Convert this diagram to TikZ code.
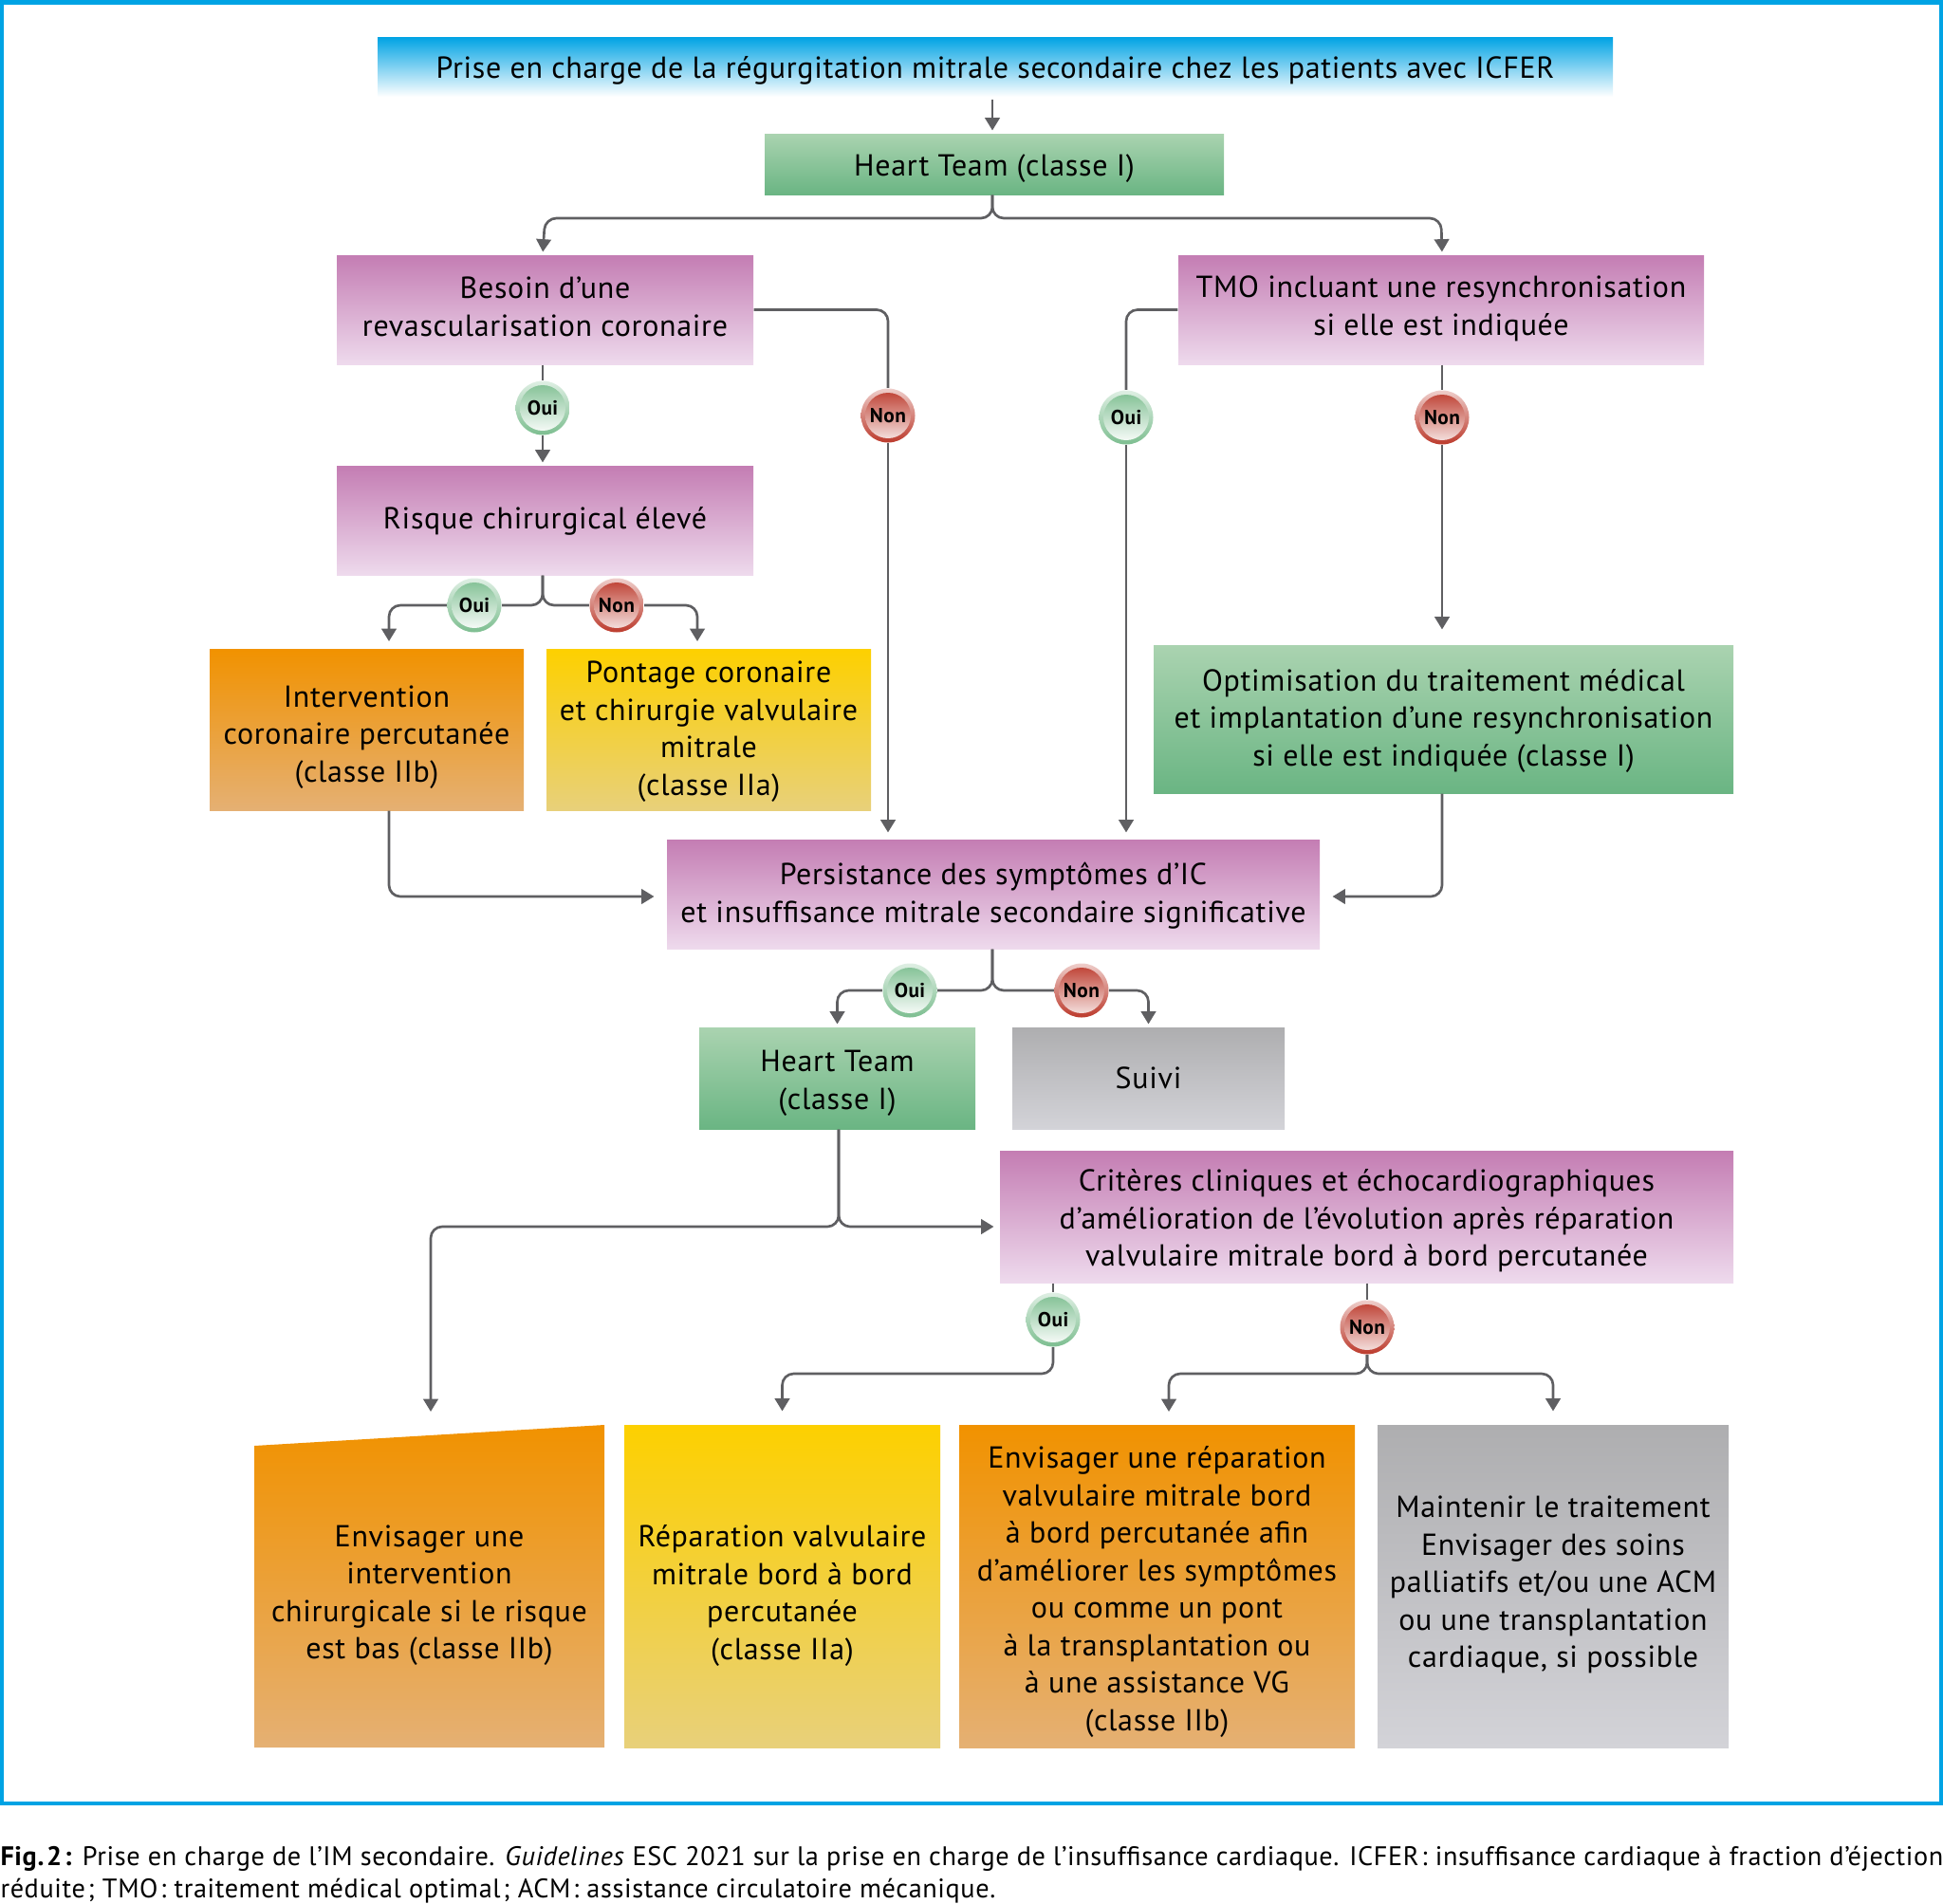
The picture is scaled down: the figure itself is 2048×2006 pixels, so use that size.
\documentclass[tikz,border=0pt]{standalone}
\usepackage{fontspec}
\usepackage{xcolor}
\setmainfont[LetterSpace=2.2]{PT Sans}
\usetikzlibrary{arrows.meta, calc, positioning}
\definecolor{frameblue}{HTML}{00A3E4}
\definecolor{mauvetop}{HTML}{C47DB3}
\definecolor{mauvebot}{HTML}{EEDAED}
\definecolor{greentop}{HTML}{AAD3B0}
\definecolor{greenbot}{HTML}{6AB583}
\definecolor{orangetop}{HTML}{F19200}
\definecolor{orangebot}{HTML}{E5B073}
\definecolor{yellowtop}{HTML}{FDD000}
\definecolor{yellowbot}{HTML}{E8D07A}
\definecolor{greytop}{HTML}{AEAEB0}
\definecolor{greybot}{HTML}{D3D3D8}
\definecolor{ouiring}{HTML}{7DBE90}
\definecolor{nonring}{HTML}{BC3A2C}
\definecolor{linegrey}{HTML}{5F5F62}
\newcommand{\pxu}{0.375pt}
% first line of a box: pushes its text down by so many pixels
\newcommand{\down}[1]{\rule{0pt}{\dimexpr 10.36pt+.75pt*#1\relax}}
\tikzset{
  % connector styles
  garr/.style={
    line width = 1pt
    , draw=linegrey
    , rounded corners=4.5pt
  },
  flow/.style={
    garr
    , -{Triangle[length=5pt,width=5.8pt]}
    , shorten >=#1*\pxu
  },
  flow/.default=3,
}
\tikzset{
  %box node styles
  sized/.style 2 args={
    minimum width=#1*\pxu
    , minimum height=#2*\pxu
  },
  box/.style={
    inner sep=0pt
    , anchor=center
    , align=center
    , font=\fontsize{12}{14.8}\selectfont
    , text=black
    , execute at end node=\strut
  },
  mauve/.style={box, top color=mauvetop, bottom color=mauvebot},
  green/.style={box, top color=greentop, bottom color=greenbot},
  orange/.style={box, top color=orangetop, bottom color=orangebot},
  yellow/.style={box, top color=yellowtop, bottom color=yellowbot},
  grey/.style={box, top color=greytop, bottom color=greybot},
  %answer node styles
  answer/.style={
    circle
    , inner sep=0pt
    , minimum size=57*\pxu
    , font=\fontsize{8}{8}\selectfont\bfseries
  },
  oui/.style={
    answer
    , top color=ouiring!25
    , bottom color=ouiring
    , path picture={\shade[top color=ouiring, middle color=ouiring!65, bottom color=white] (path picture bounding box.center) circle (24*\pxu);}
  },
  non/.style={
    answer
    , top color=nonring!25
    , bottom color=nonring
    , path picture={\shade[top color=nonring, middle color=nonring!70, bottom color=nonring!10] (path picture bounding box.center) circle (24*\pxu);}
  },
}

\begin{document}
\begin{tikzpicture}[x=\pxu, y=-\pxu]
  \useasboundingbox (0,0) rectangle (2048,2006);
  \draw[frameblue, line width=1.6pt] (2,2.5) rectangle (2046,1901);

  \node[box, sized={1302}{63}, top color=frameblue, bottom color=white] (title) at (1049,70.5)
    {\down{4}Prise en charge de la régurgitation mitrale secondaire chez les patients avec ICFER};
  \node[green, sized={484}{64}] (heart1) at (1048,173) {\down{5}Heart Team (classe I)};
  \node[mauve, sized={439}{115}] (besoin) at (574.5,326.5) {\down{0}Besoin d’une\\revascularisation coronaire};
  \node[mauve, sized={554}{115}] (tmo) at (1519,326.5) {\down{-1}TMO incluant une resynchronisation\\si elle est indiquée};
  \node[mauve, sized={439}{115}] (risque) at (574.5,548.5) {\down{1}Risque chirurgical élevé};
  \node[orange, sized={331}{170}] (interv) at (386.5,769) {\down{8}Intervention\\coronaire percutanée\\(classe IIb)};
  \node[yellow, sized={342}{170}] (pontage) at (747,769) {\down{2}Pontage coronaire\\et chirurgie valvulaire\\mitrale\\(classe IIa)};
  \node[green, sized={611}{156}] (optim) at (1521.5,758) {\down{2}Optimisation du traitement médical\\et implantation d’une resynchronisation\\si elle est indiquée (classe I)};
  \node[mauve, sized={688}{115}] (persist) at (1047,942.5) {\down{2}Persistance des symptômes d’IC\\et insuffisance mitrale secondaire significative};
  \node[green, sized={291}{107}] (heart2) at (882.5,1136.5) {\down{5}Heart Team\\(classe I)};
  \node[grey, sized={287}{107}] (suivi) at (1210.5,1136.5) {\down{3}Suivi};
  \node[mauve, sized={773}{139}] (crit) at (1440.5,1282.5) {\down{5}Critères cliniques et échocardiographiques\\d’amélioration de l’évolution après réparation\\valvulaire mitrale bord à bord percutanée};

  % bottom row, first box is slanted
  \shade[top color=orangetop, bottom color=orangebot] (268,1524) -- (637,1502) -- (637,1842) -- (268,1842) -- cycle;
  \node[box] (chir) at (452.5,1684) {Envisager une\\intervention\\chirurgicale si le risque\\est bas (classe IIb)};
  \node[yellow, sized={333}{340}] (repar) at (824.5,1672) {\down{10}Réparation valvulaire\\mitrale bord à bord\\percutanée\\(classe IIa)};
  \node[orange, sized={417}{340}] (envis) at (1219.5,1672) {\down{6}Envisager une réparation\\valvulaire mitrale bord\\à bord percutanée afin\\d’améliorer les symptômes\\ou comme un pont\\à la transplantation ou\\à une assistance VG\\(classe IIb)};
  \node[grey, sized={370}{340}] (maint) at (1637,1672) {\down{-1}Maintenir le traitement\\Envisager des soins\\palliatifs et/ou une ACM\\ou une transplantation\\cardiaque, si possible};

  \node[oui] (oui1) at (572,430) {Oui};
  \node[non] (non1) at (936,438) {Non};
  \node[oui] (oui2) at (1187,440) {Oui};
  \node[non] (non2) at (1520,440) {Non};
  \node[oui] (oui3) at (500,638) {Oui};
  \node[non] (non3) at (650,638) {Non};
  \node[oui] (oui4) at (959,1044) {Oui};
  \node[non] (non4) at (1140,1044) {Non};
  \node[oui] (oui5) at (1110,1391) {Oui};
  \node[non] (non5) at (1441,1399) {Non};

  % free points of the routes
  \coordinate (trunk) at (1046,230);
  \coordinate (rail3) at (572,638);
  \coordinate (rail4) at (1046,1044);
  \coordinate (rail5) at (884,1293);
  \coordinate (rail6) at (1441,1448);
  \coordinate (ptinterv) at (410,676);
  \coordinate (ptpontage) at (735,676);
  \coordinate (ptchir) at (454,1502);
  \coordinate (ptenvis) at (1232,1502);
  \coordinate (ptlow) at (410,945);

  \draw[flow] (title.south -| trunk) ++(0,2) -- (heart1.north -| trunk);
  \draw[flow] (heart1.south -| trunk) |- (besoin.north |- trunk) -- (oui1.north |- besoin.north);
  \draw[flow] (heart1.south -| trunk) |- (tmo.north |- trunk) -- (non2.north |- tmo.north);

  \draw[garr] (oui1.north |- besoin.south) -- (oui1.north);
  \draw[flow] (oui1.south) -- (oui1.south |- risque.north);
  \draw[garr] (besoin.east) -| (non1.north);
  \draw[flow={7}] (non1.south) -- (non1.south |- persist.north);
  \draw[garr] (tmo.west) -| (oui2.north);
  \draw[flow={7}] (oui2.south) -- (oui2.south |- persist.north);
  \draw[garr] (non2.north |- tmo.south) -- (non2.north);
  \draw[flow={16}] (non2.south) -- (non2.south |- optim.north);

  \draw[garr] (rail3 |- risque.south) |- (oui3.east);
  \draw[garr] (rail3 |- risque.south) |- (non3.west);
  \draw[flow={0}] (oui3.west) -| (ptinterv);
  \draw[flow={0}] (non3.east) -| (ptpontage);

  \draw[flow={13}] (ptlow |- interv.south) |- (persist.west |- ptlow);
  \draw[flow={13}] (non2.south |- optim.south) |- (persist.east |- ptlow);

  \draw[garr] (rail4 |- persist.south) |- (oui4.east);
  \draw[garr] (rail4 |- persist.south) |- (non4.west);
  \draw[flow] (oui4.west) -| (heart2.north);
  \draw[flow] (non4.east) -| (suivi.north);

  \draw[flow={14}] (rail5 |- heart2.south) |- (ptchir |- rail5) -- (ptchir);
  \draw[flow={6}] (rail5 |- heart2.south) |- (crit.west |- rail5);

  \draw[garr] (oui5.north |- crit.south) -- (oui5.north);
  \draw[garr] (non5.north |- crit.south) -- (non5.north);
  \draw[flow={14}] (oui5.south) |- (repar.north |- rail6) -- (repar.north);
  \draw[flow={14}] (non5.south) |- (ptenvis |- rail6) -- (ptenvis);
  \draw[flow={14}] (non5.south) |- (maint.north |- rail6) -- (maint.north);

  \node[anchor=north west, inner sep=0pt, align=left, font=\fontsize{10.6}{12.75}\selectfont] (legend) at (0,1946)
    {\textbf{Fig.\kern1pt 2\kern1pt:} Prise en charge de l’IM secondaire. \textit{Guidelines} ESC 2021 sur la prise en charge de l’insuffisance cardiaque. ICFER\kern1pt: insuffisance cardiaque à fraction d’éjection\\
     réduite\kern1pt; TMO\kern1pt: traitement médical optimal\kern1pt; ACM\kern1pt: assistance circulatoire mécanique.};
\end{tikzpicture}
\end{document}
